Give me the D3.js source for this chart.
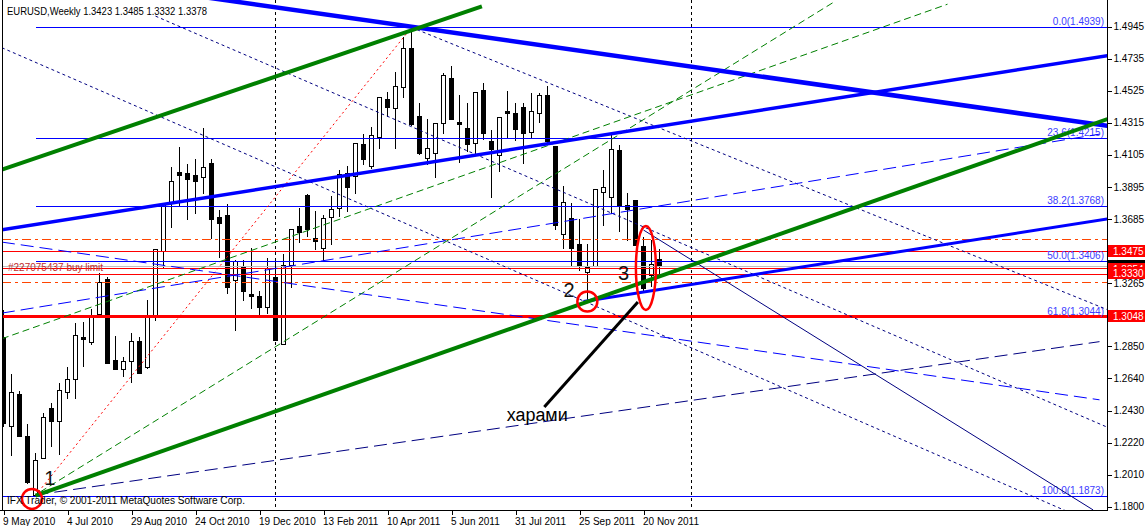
<!DOCTYPE html>
<html><head><meta charset="utf-8">
<script src="https://cdn.jsdelivr.net/npm/d3@7"></script>
<style>
html,body{margin:0;padding:0;background:#fff;}
svg{display:block;}
text{font-family:"Liberation Sans",Arial,sans-serif;}
</style></head><body>
<svg id="c" width="1145" height="526"></svg>
<script>
// ---------------- DATA ----------------
const symbolTitle = "EURUSD,Weekly";
const copyright = "IFX Trader, \u00a9 2001-2011 MetaQuotes Software Corp.";
const orderLabel = "#227075437 buy limit";

const opens  = [1.2912,1.2331,1.2539,1.2266,1.1877,1.2122,1.2449,1.2364,1.2554,1.2635,1.2910,1.2881,1.3060,1.3290,1.2761,1.2700,1.2755,1.2884,1.2713,1.3054,1.3477,1.3794,1.3992,1.3988,1.3973,1.3958,1.4053,1.3700,1.3709,1.3283,1.3372,1.3195,1.3180,1.3106,1.3305,1.2864,1.3381,1.3639,1.3842,1.3560,1.3497,1.3696,1.3755,1.3984,1.3966,1.4176,1.4034,1.4223,1.4470,1.4409,1.4551,1.4802,1.4359,1.4082,1.4115,1.4311,1.4606,1.4320,1.4278,1.4180,1.4529,1.4195,1.4102,1.4390,1.4377,1.4416,1.4256,1.4377,1.4496,1.4163,1.3584,1.3691,1.3521,1.3339,1.3379,1.3859,1.3830,1.4136,1.3774,1.3809,1.3508,1.3318,1.3423];
const highs  = [1.3089,1.2670,1.2560,1.2342,1.2150,1.2412,1.2482,1.2613,1.2717,1.3002,1.3012,1.3093,1.3329,1.3307,1.2918,1.2779,1.2940,1.2914,1.3154,1.3486,1.3789,1.4027,1.4158,1.4045,1.4075,1.4280,1.4075,1.3743,1.3783,1.3416,1.3416,1.3493,1.3215,1.3427,1.3427,1.3453,1.3617,1.3755,1.3845,1.3735,1.3711,1.3835,1.4005,1.4032,1.4180,1.4241,1.4289,1.4481,1.4518,1.4649,1.4878,1.4939,1.4442,1.4337,1.4311,1.4639,1.4686,1.4496,1.4442,1.4514,1.4573,1.4267,1.4350,1.4523,1.4442,1.4442,1.4512,1.4512,1.4555,1.4163,1.3901,1.3791,1.3683,1.3521,1.3881,1.4005,1.4246,1.4167,1.3853,1.3809,1.3569,1.3547,1.3485];
const lows   = [1.2329,1.2139,1.2264,1.1956,1.1873,1.2120,1.2200,1.2144,1.2510,1.2514,1.2722,1.2866,1.3045,1.2742,1.2702,1.2656,1.2619,1.2673,1.2709,1.3023,1.3372,1.3630,1.3770,1.3686,1.3726,1.3857,1.3558,1.3438,1.3198,1.2958,1.3154,1.3100,1.3045,1.3067,1.2889,1.2863,1.3241,1.3536,1.3575,1.3490,1.3416,1.3521,1.3704,1.3739,1.3853,1.4045,1.4017,1.4147,1.4359,1.4147,1.4485,1.4303,1.4113,1.4045,1.3961,1.4246,1.4336,1.4060,1.4132,1.4104,1.4206,1.3827,1.4001,1.4223,1.4202,1.4049,1.4220,1.4322,1.4180,1.3617,1.3493,1.3377,1.3351,1.3141,1.3377,1.3645,1.3722,1.3608,1.3547,1.3511,1.3220,1.3246,1.3332];
const closes = [1.2349,1.2554,1.2266,1.1960,1.2106,1.2390,1.2364,1.2565,1.2635,1.2925,1.2901,1.3045,1.3274,1.2744,1.2704,1.2757,1.2888,1.2674,1.3041,1.3486,1.3787,1.3933,1.3971,1.3946,1.3935,1.4023,1.3683,1.3660,1.3237,1.3408,1.3215,1.3182,1.3110,1.3362,1.2892,1.3381,1.3617,1.3601,1.3620,1.3542,1.3689,1.3748,1.3981,1.3892,1.4180,1.4079,1.4233,1.4481,1.4420,1.4555,1.4802,1.4307,1.4115,1.4147,1.4311,1.4627,1.4337,1.4305,1.4176,1.4514,1.4250,1.4143,1.4350,1.4381,1.4276,1.4246,1.4394,1.4496,1.4195,1.3645,1.3794,1.3493,1.3379,1.3372,1.3881,1.3892,1.4141,1.3776,1.3748,1.3514,1.3231,1.3390,1.3378];

const dateTickIndex  = [0,8,16,24,32,40,48,56,64,72,80];
const dateTickLabels = ["9 May 2010","4 Jul 2010","29 Aug 2010","24 Oct 2010","19 Dec 2010","13 Feb 2011","10 Apr 2011","5 Jun 2011","31 Jul 2011","25 Sep 2011","20 Nov 2011"];
const priceTicks = [1.4945,1.4735,1.4525,1.4315,1.4105,1.3895,1.3685,1.3265,1.2850,1.2640,1.2430,1.2220,1.2010,1.1800];

const fibLevels = [0.0,23.6,38.2,50.0,61.8,100.0];
const fibPrices = [1.4939,1.4215,1.3768,1.3406,1.3044,1.1873];
const fibStartBar = 4;

const redLevels = [1.3475,1.3366,1.3325];
const thickRedLevel = 1.3048;
const orangeLevels = [1.3556,1.3274];
const bidPrice = 1.3378;
const separatorBars = [34,86];

// axis price boxes, drawn in this order (later ones cover earlier ones)
const axisBoxValues = [1.3354,1.3330,1.3475,1.3048];

// trend lines: [bar1, price1, bar2, price2]
const lineResTop     = [25,1.5138,138,1.4294];
const lineMidBlue    = [-0.2,1.3614,138,1.4754];
const lineLowBlue    = [72.5,1.3144,138,1.3685];
const lineBlueDashUp = [-0.2,1.3068,137,1.4240];
const lineBlueDashDn = [-0.2,1.3533,137,1.2500];
const lineNavyDashUp = [4,1.1877,137,1.2881];
const lineNavyDot1   = [-0.2,1.4806,133,1.1768];
const lineNavyDot2   = [19,1.5013,138,1.2320];
const lineNavyDot3   = [51,1.4939,138,1.3090];
const lineNavySolid  = [80,1.3612,136.2,1.1779];
const lineGreenTop   = [-0.2,1.4008,59.8,1.5077];
const lineGreenMain  = [4,1.1873,138,1.4339];
const lineGreenDash1 = [4.6,1.1897,103.8,1.5105];
const lineGreenDash2 = [-0.2,1.2900,118,1.5091];
const lineFibTrend   = [4,1.1873,51,1.4939];

// annotations
const markText   = ["1","2","3"];
const markBars   = [5.1,70.0,76.8];
const markPrices = [1.1943,1.3174,1.3285];
const circleBars   = [3.56,72.98];
const circlePrices = [1.1851,1.3144];
const ellipseBar = 80.3, ellipsePrice = 1.3364;
const arrowLine = [79.3,1.3141,67.6,1.2453];
const noteText = "харами", noteBar = 62.9, notePrice = 1.2362;

// ---------------- DRAW ----------------
const svg = d3.select("#c");
const PL = 2, PR = 1107, PT = 0, PB = 510;
const x = d3.scaleLinear().domain([0,138]).range([3.5,1107.5]);
const y = d3.scaleLinear().domain([1.1800,1.4945]).range([506.7,26.5]);
const cy = v => Math.round(y(v)) + 0.5;

svg.append("rect").attr("width",1145).attr("height",526).attr("fill","#fff");
const defs = svg.append("defs");
defs.append("clipPath").attr("id","clip")
  .append("rect").attr("x",PL+0.5).attr("y",PT).attr("width",PR-PL-0.5).attr("height",PB-PT);

const plot = svg.append("g").attr("clip-path","url(#clip)");

// candles
const bars = d3.range(opens.length).map(i => ({i, o:opens[i], h:highs[i], l:lows[i], c:closes[i]}));
const gc = plot.append("g").attr("shape-rendering","crispEdges");
gc.selectAll("line").data(bars).join("line")
  .attr("x1", d => x(d.i)).attr("x2", d => x(d.i))
  .attr("y1", d => Math.round(y(d.h))).attr("y2", d => Math.round(y(d.l)) + 1)
  .attr("stroke","#000").attr("stroke-width",1);
gc.selectAll("rect").data(bars).join("rect")
  .attr("x", d => x(d.i) - 2).attr("width", 4)
  .attr("y", d => cy(Math.max(d.o,d.c)))
  .attr("height", d => Math.max(1, cy(Math.min(d.o,d.c)) - cy(Math.max(d.o,d.c))))
  .attr("fill", d => d.c >= d.o ? "#fff" : "#000")
  .attr("stroke","#000").attr("stroke-width",1);

// horizontal levels
const gh = plot.append("g").attr("shape-rendering","crispEdges");
function hline(v, x1, color, w, dash){
  gh.append("line").attr("x1",x1).attr("x2",PR).attr("y1",cy(v)).attr("y2",cy(v))
    .attr("stroke",color).attr("stroke-width",w).attr("stroke-dasharray",dash||null);
}
fibPrices.forEach((p,k) => hline(p, k === fibPrices.length-1 ? PL : x(fibStartBar), "#0000ff", 1));
hline(bidPrice, PL, "#c0c0c0", 1);
redLevels.forEach(p => hline(p, PL, "#ff0000", 1));
orangeLevels.forEach(p => hline(p, PL, "#ff4500", 1, "9,4,3,4"));
gh.append("line").attr("x1",PL).attr("x2",PR).attr("y1",Math.round(y(thickRedLevel))+0.5).attr("y2",Math.round(y(thickRedLevel))+0.5)
  .attr("stroke","#ff0000").attr("stroke-width",3);

// period separators
separatorBars.forEach(b => {
  gh.append("line").attr("x1",Math.round(x(b))-0.5).attr("x2",Math.round(x(b))-0.5).attr("y1",PT).attr("y2",PB)
    .attr("stroke","#000").attr("stroke-width",1).attr("stroke-dasharray","3,3");
});

// fib labels
plot.append("g").selectAll("text").data(fibLevels).join("text")
  .attr("x",1104).attr("y",(d,k) => y(fibPrices[k]) - 2)
  .attr("text-anchor","end").attr("font-size",10).attr("fill","#3c3cff")
  .text((d,k) => d.toFixed(1) + "(" + fibPrices[k].toFixed(4) + ")");

// order label
plot.append("text").attr("x",8).attr("y",y(1.3366)+3.5).attr("font-size",10)
  .attr("fill","#c03030").text(orderLabel);

// trend lines
const gt = plot.append("g").attr("fill","none");
function tline(L, color, w, dash){
  gt.append("line").attr("x1",x(L[0])).attr("y1",y(L[1])).attr("x2",x(L[2])).attr("y2",y(L[3]))
    .attr("stroke",color).attr("stroke-width",w).attr("stroke-dasharray",dash||null);
}
tline(lineFibTrend, "#ff0000", 1, "2,3");
tline(lineNavyDot1, "#000080", 1, "3,3");
tline(lineNavyDot2, "#000080", 1, "3,3");
tline(lineNavyDot3, "#000080", 1, "3,3");
tline(lineNavySolid, "#000080", 1);
tline(lineNavyDashUp, "#000080", 1, "13,6");
tline(lineBlueDashUp, "#0000ff", 1, "13,6");
tline(lineBlueDashDn, "#0000ff", 1, "13,6");
tline(lineGreenDash1, "#008000", 1, "7,4");
tline(lineGreenDash2, "#008000", 1, "7,4");
tline(lineResTop, "#0000ff", 4.5);
tline(lineMidBlue, "#0000ff", 3.5);
tline(lineLowBlue, "#0000ff", 3);
tline(lineGreenTop, "#008000", 4);
tline(lineGreenMain, "#008000", 4);

// annotations
const ga = plot.append("g");
ga.selectAll("text.mk").data(markText).join("text").attr("class","mk")
  .attr("x",(d,k)=>x(markBars[k])).attr("y",(d,k)=>y(markPrices[k]))
  .attr("font-size",20).attr("fill","#111").text(d=>d);
ga.selectAll("circle").data(circleBars).join("circle")
  .attr("cx",(d,k)=>x(d)).attr("cy",(d,k)=>y(circlePrices[k])).attr("r",10)
  .attr("fill","none").attr("stroke","#ff0000").attr("stroke-width",2.5);
ga.append("ellipse").attr("cx",x(ellipseBar)).attr("cy",y(ellipsePrice)).attr("rx",10).attr("ry",42)
  .attr("fill","none").attr("stroke","#ff0000").attr("stroke-width",2.5);
ga.append("line").attr("x1",x(arrowLine[0])).attr("y1",y(arrowLine[1])).attr("x2",x(arrowLine[2])).attr("y2",y(arrowLine[3]))
  .attr("stroke","#000").attr("stroke-width",3);
ga.append("text").attr("x",x(noteBar)).attr("y",y(notePrice)).attr("font-size",18)
  .attr("textLength",61).attr("lengthAdjust","spacingAndGlyphs").attr("fill","#000").text(noteText);

// header & copyright
const last = bars[bars.length-1];
svg.append("text").attr("x",7).attr("y",15).attr("font-size",11)
  .attr("textLength",200).attr("lengthAdjust","spacingAndGlyphs").attr("fill","#000")
  .text(symbolTitle + "  " + [last.o,last.h,last.l,last.c].map(v=>v.toFixed(4)).join(" "));
svg.append("text").attr("x",7).attr("y",504).attr("font-size",10)
  .attr("textLength",238).attr("lengthAdjust","spacingAndGlyphs").attr("fill","#000").text(copyright);

// frame
const gf = svg.append("g").attr("shape-rendering","crispEdges");
gf.append("line").attr("x1",PL+0.5).attr("x2",PL+0.5).attr("y1",PT).attr("y2",PB).attr("stroke","#000");

// right price axis
const ya = svg.append("g").attr("transform",`translate(${PR+0.5},0)`)
  .call(d3.axisRight(y).tickValues(priceTicks).tickSize(4).tickSizeOuter(0).tickPadding(2).tickFormat(d3.format(".4f")));
ya.select(".domain").remove();
ya.selectAll("text").attr("font-family","Liberation Sans, Arial, sans-serif").attr("font-size",10).attr("fill","#000");
ya.selectAll("line").attr("stroke","#000").attr("shape-rendering","crispEdges");
gf.append("line").attr("x1",PR+0.5).attr("x2",PR+0.5).attr("y1",PT).attr("y2",PB+1).attr("stroke","#000");

// bottom time axis
const xa = svg.append("g").attr("transform",`translate(0,${PB+0.5})`)
  .call(d3.axisBottom(x).tickValues(dateTickIndex).tickSize(4).tickSizeOuter(0).tickPadding(3)
    .tickFormat((d,k)=>dateTickLabels[k]));
xa.select(".domain").remove();
xa.selectAll("text").attr("font-family","Liberation Sans, Arial, sans-serif").attr("font-size",10)
  .attr("fill","#000").attr("text-anchor","start").attr("dx",-1);
xa.selectAll("line").attr("stroke","#000").attr("shape-rendering","crispEdges");
gf.append("line").attr("x1",0).attr("x2",PR+1).attr("y1",PB+0.5).attr("y2",PB+0.5).attr("stroke","#000");

// price boxes on the axis: black bid box first (covered), then red boxes in order
const gb = svg.append("g");
const bidY = Math.round(y(bidPrice));
gb.append("rect").attr("x",PR+1).attr("y",bidY-6).attr("width",1145-PR-1).attr("height",12).attr("fill","#000");
const y0 = Math.round(y(axisBoxValues[0])), y1 = Math.round(y(axisBoxValues[1]));
defs.append("clipPath").attr("id","clipTop")
  .append("rect").attr("x",PR+1).attr("y",y0-6).attr("width",40).attr("height",Math.max(1,y1-y0));
axisBoxValues.forEach((v,k) => {
  const yy = Math.round(y(v));
  gb.append("rect").attr("x",PR+1).attr("y",yy-6).attr("width",1145-PR-1).attr("height",12).attr("fill","#ff0000");
  const t = gb.append("text").attr("x",PR+6).attr("y",yy+4).attr("font-size",10).attr("fill","#fff").text(v.toFixed(4));
  if (k === 0) t.attr("clip-path","url(#clipTop)");
});
</script>
</body></html>
